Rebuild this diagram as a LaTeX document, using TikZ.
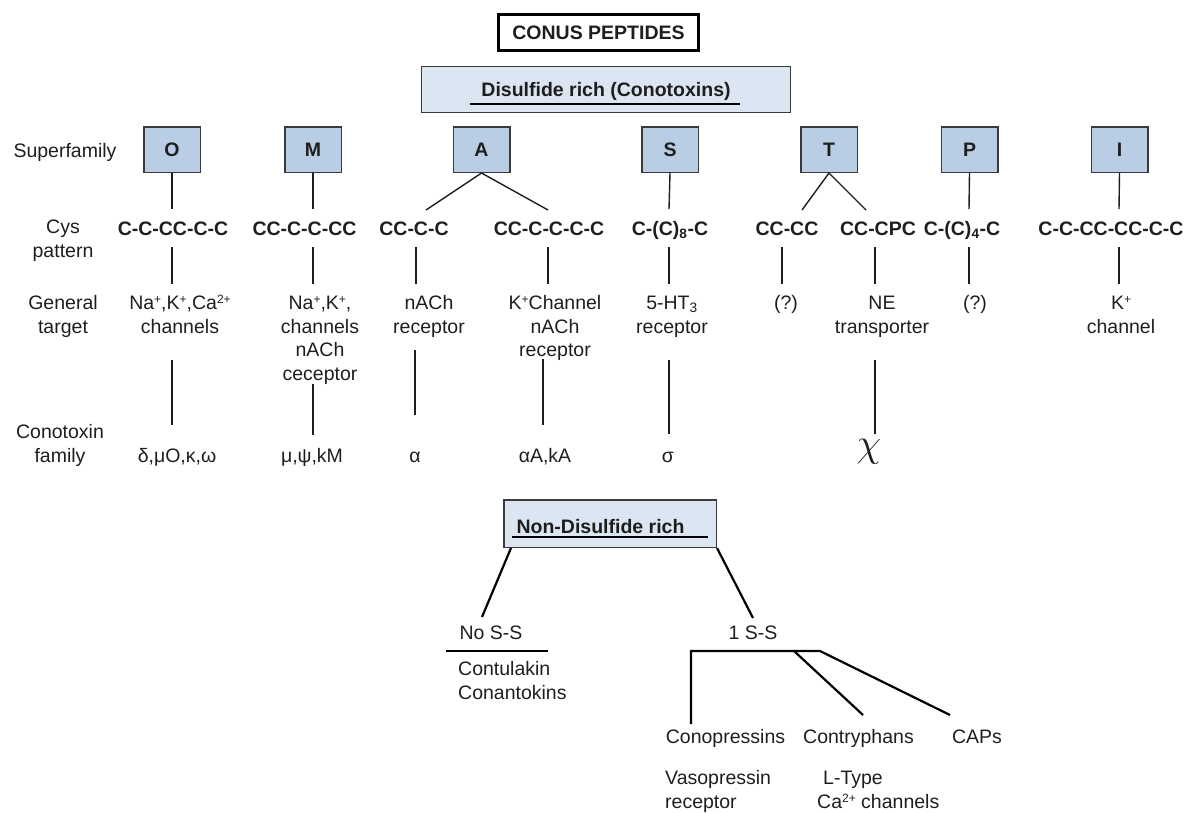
\RequirePackage{fix-cm}
\documentclass[tikz,border=0pt]{standalone}
\usepackage{fontspec}
\setmainfont{Liberation Sans}
\usetikzlibrary{calc}
\definecolor{famfill}{HTML}{B9CDE5}
\definecolor{lightfill}{HTML}{DCE6F2}
\definecolor{txt}{HTML}{1E1E1E}
\definecolor{edge}{HTML}{3A3A3A}
\newcommand{\mystrut}{\rule{0pt}{22pt}}
\newcommand{\fsz}{\fontsize{19.5}{23.8}\selectfont}
\newcommand{\sps}[1]{\raisebox{6pt}{\fontsize{12}{12}\selectfont #1}}
\begin{document}
\begin{tikzpicture}[x=1pt,y=-1pt,
  lab/.style={anchor=north,inner sep=0pt,align=center,font=\fsz,text=txt},
  labl/.style={anchor=north west,inner sep=0pt,align=left,font=\fsz,text=txt},
  cys/.style={lab,font=\fsz\bfseries},
  fam/.style={draw=edge,line width=1.5pt,fill=famfill,minimum width=56.5pt,minimum height=45.5pt,inner sep=0pt,text height=14pt,text depth=0pt,font=\fsz\bfseries,text=txt},
  ln/.style={line width=1.4pt,draw=txt},
  lnb/.style={line width=2.2pt,draw=black},
  uline/.style={line width=1.9pt,draw=black},
]
\useasboundingbox (0,0) rectangle (1186,812);

% ---------- title boxes ----------
\node[draw=black,line width=3pt,minimum width=200pt,minimum height=36pt,inner sep=0pt,
      text height=14pt,text depth=0pt,font=\fsz\bfseries,text=txt] (conus) at (598.5,32.5) {CONUS PEPTIDES};
\node[draw=edge,line width=1.3pt,fill=lightfill,minimum width=369pt,minimum height=46pt,inner sep=0pt,
      text height=14pt,text depth=0pt,font=\fsz\bfseries,text=txt] (dis) at (606,89.5) {Disulfide rich (Conotoxins)};
\draw[uline] (470,104) -- (740,104);

% ---------- row labels ----------
\node[lab] (lsup) at (65,135) {\mystrut Superfamily};
\node[lab] (lcys) at (63,211) {\mystrut Cys\\pattern};
\node[lab] (lgen) at (63,287) {\mystrut General\\target};
\node[lab] (lcon) at (60,416) {\mystrut Conotoxin\\family};

% ---------- superfamilies ----------
\node[fam] (O) at (172,149.5) {O};
\node[fam] (M) at (313,149.5) {M};
\node[fam] (A) at (481.5,149.5) {A};
\node[fam] (S) at (670,149.5) {S};
\node[fam] (T) at (829,149.5) {T};
\node[fam] (P) at (969.5,149.5) {P};
\node[fam] (I) at (1119.5,149.5) {I};

% ---------- cys patterns ----------
\node[cys] (cO) at (173,213) {\mystrut C-C-CC-C-C};
\node[cys] (cM) at (304.5,213) {\mystrut CC-C-C-CC};
\node[cys] (cA1) at (414,213) {\mystrut CC-C-C};
\node[cys] (cA2) at (549,213) {\mystrut CC-C-C-C-C};
\node[cys] (cS) at (670,213) {\mystrut C-(C)\textsubscript{8}-C};
\node[cys] (cT1) at (787,213) {\mystrut CC-CC};
\node[cys] (cT2) at (878,213) {\mystrut CC-CPC};
\node[cys] (cP) at (962,213) {\mystrut C-(C)\textsubscript{4}-C};
\node[cys] (cI) at (1111,213) {\mystrut C-C-CC-CC-C-C};

% ---------- general targets ----------
\node[lab] (tO) at (180,287) {\mystrut Na\sps{+},K\sps{+},Ca\sps{2+}\\channels};
\node[lab] (tM) at (320,287) {\mystrut Na\sps{+},K\sps{+},\\channels\\nACh\\ceceptor};
\node[lab] (tA1) at (429,287) {\mystrut nACh\\receptor};
\node[lab] (tA2) at (555,287) {\mystrut K\sps{+}Channel\\nACh\\receptor};
\node[lab] (tS) at (672,287) {\mystrut 5-HT\textsubscript{3}\\receptor};
\node[lab] (tT1) at (786,287) {\mystrut (?)};
\node[lab] (tT2) at (882,287) {\mystrut NE\\transporter};
\node[lab] (tP) at (975,287) {\mystrut (?)};
\node[lab] (tI) at (1121,287) {\mystrut K\sps{+}\\channel};

% ---------- conotoxin families ----------
\node[lab] (fO) at (177,440) {\mystrut δ,μO,κ,ω};
\node[lab] (fM) at (312,440) {\mystrut μ,ψ,kM};
\node[lab] (fA1) at (415,440) {\mystrut α};
\node[lab] (fA2) at (545,440) {\mystrut αA,kA};
\node[lab] (fS) at (668,440) {\mystrut σ};
\node[anchor=base,inner sep=0pt,font=\fontsize{40}{42}\selectfont,text=txt] (fT) at (869,456) {$\chi$};

% ---------- connectors: superfamily -> cys ----------
\coordinate (eO) at (172,209);
\coordinate (eM) at (313,209);
\coordinate (eA1) at (426,210);
\coordinate (eA2) at (548,210);
\coordinate (eS) at (669,209);
\coordinate (eT1) at (802,210);
\coordinate (eT2) at (866,210);
\coordinate (eP) at (969,209);
\coordinate (eI) at (1119,209);
\draw[ln] (O.south) -- (eO);
\draw[ln] (M.south) -- (eM);
\draw[ln] (A.south) -- (eA1);
\draw[ln] (A.south) -- (eA2);
\draw[ln] (S.south) -- (eS);
\draw[ln] (T.south) -- (eT1);
\draw[ln] (T.south) -- (eT2);
\draw[ln] (P.south) -- (eP);
\draw[ln] (I.south) -- (eI);

% ---------- connectors: cys -> target, target -> family ----------
\foreach \n/\x/\a/\b in {gO/172/247/284, gM/313/247/284, gA1/416/247/284, gA2/548/247/284,
    gS/669/247/284, gT1/782/247/284, gT2/875/247/284, gP/969/247/284, gI/1119/247/284,
    hO/172/360/425, hM/313/384/435, hA1/415/350/415, hA2/543/359/425, hS/669/360/434, hT/875/360/434}{
  \coordinate (\n a) at (\x,\a);
  \coordinate (\n b) at (\x,\b);
  \draw[ln] (\n a) -- (\n b);
}

% ---------- non-disulfide rich ----------
\node[draw=edge,line width=1.5pt,fill=lightfill,minimum width=212.5pt,minimum height=47.5pt,inner sep=0pt] (nd) at (610,523.5) {};
\node[cys] (ndt) at (600.5,511) {\mystrut Non-Disulfide rich};
\draw[uline,line width=2.2pt] (512,537) -- (708,537);

\node[lab] (noss) at (491,617) {\mystrut No S-S};
\node[lab] (oness) at (753,617) {\mystrut 1 S-S};
\coordinate (ndl) at (511,548);
\coordinate (nsl) at (482,617);
\coordinate (osl) at (753,618);
\draw[lnb] (ndl) -- (nsl);
\draw[lnb] (nd.south east) -- (osl);
\draw[lnb] (446,651) -- (548,651);

\node[labl] (contul) at (458,653) {\mystrut Contulakin\\Conantokins};

\node[lab] (conop) at (725.5,721) {\mystrut Conopressins};
\node[lab] (contr) at (858.5,721) {\mystrut Contryphans};
\node[lab] (caps) at (977,721) {\mystrut CAPs};
\coordinate (bl) at (691,651);
\coordinate (bm) at (794,651);
\coordinate (br) at (820,651);
\coordinate (eConop) at (691,724);
\coordinate (eContr) at (863,715);
\coordinate (eCaps) at (950,715);
\draw[lnb,line join=miter] (eConop) -- (bl) -- (br) -- (eCaps);
\draw[lnb] (bm) -- (eContr);

\node[labl] (vaso) at (665,762) {\mystrut Vasopressin\\receptor};
\node[labl] (ltype) at (817,762) {\mystrut\hspace*{6pt}L-Type\\Ca\sps{2+} channels};
\end{tikzpicture}
\end{document}
